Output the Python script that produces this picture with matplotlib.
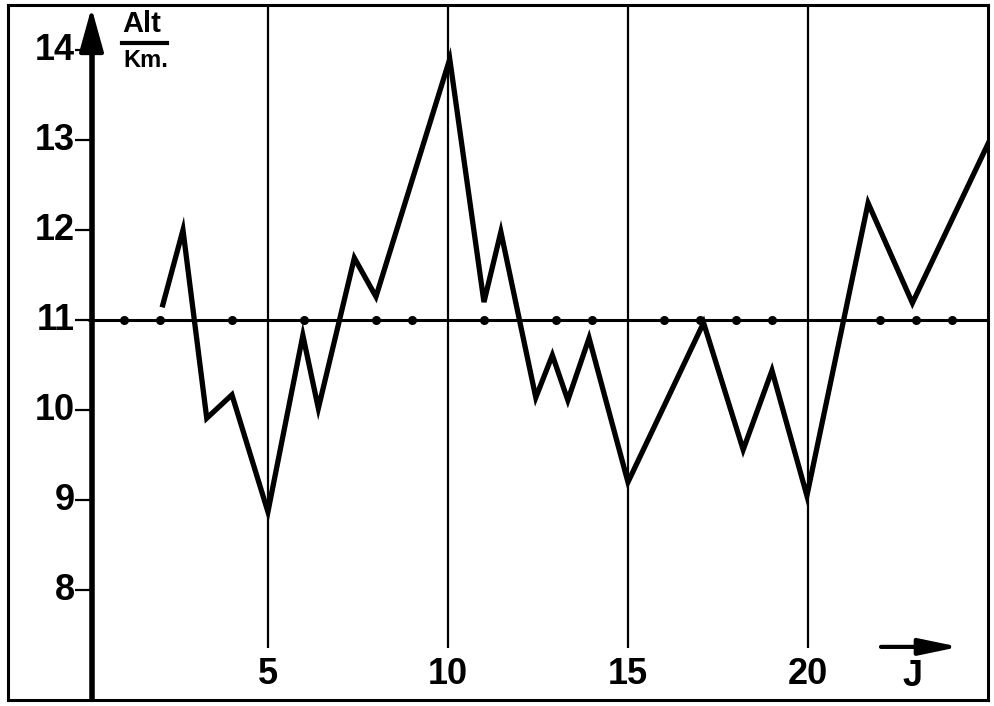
import matplotlib
matplotlib.use("Agg")
import matplotlib.pyplot as plt

# Data
days = [2.08, 2.64, 3.3, 4.0, 5.0, 5.97, 6.4, 7.4, 8.0, 10.05, 11.0, 11.47,
        12.44, 12.9, 13.33, 13.92, 15.0, 17.1, 18.2, 19.0, 19.97, 21.67, 22.9, 25.05]
alt = [11.17, 12.0, 9.91, 10.17, 8.87, 10.83, 10.02, 11.69, 11.26, 13.9, 11.2, 11.98,
       10.14, 10.61, 10.11, 10.8, 9.2, 10.97, 9.56, 10.44, 9.05, 12.3, 11.19, 13.0]
ref_level = 11
dot_days = [1, 2, 4, 6, 8, 9, 11, 13, 14, 16, 17, 18, 19, 22, 23, 24]
y_ticks = [8, 9, 10, 11, 12, 13, 14]
x_ticks = [5, 10, 15, 20]

plt.rcParams["font.family"] = ["Liberation Sans", "DejaVu Sans"]

fig = plt.figure(figsize=(9.94, 7.06), dpi=100)
ax = fig.add_axes([8 / 994, 6 / 706, 980 / 994, 695 / 706])
ax.set_xlim(-2.22, 25.0)
ax.set_ylim(6.78, 14.5)
ax.set_xticks([])
ax.set_yticks([])
for s in ax.spines.values():
    s.set_linewidth(2.2)
    s.set_color("black")

# vertical grid lines
ax.vlines(x_ticks, 7.36, 14.5, color="black", lw=1.6)
# reference level with dots
ax.hlines(ref_level, 0, 25.0, color="black", lw=2.2)
ax.plot(dot_days, [ref_level] * len(dot_days), "o", color="black", ms=5.5)

# y axis with arrow
ax.plot([0.1, 0.1], [6.78, 14.1], color="black", lw=4, solid_capstyle="butt")
ax.annotate("", xy=(0.1, 14.5), xytext=(0.1, 14.05),
            arrowprops=dict(arrowstyle="-|>,head_length=2.7,head_width=0.75",
                            color="black", lw=3))

# y ticks and labels
ax.hlines(y_ticks, -0.35, 0.1, color="black", lw=1.6)
for v in y_ticks:
    ax.text(-0.36, v, str(v), ha="right", va="center", fontsize=26,
            fontweight="bold", color="black")

# x labels
for v in x_ticks:
    ax.text(v, 7.06, str(v), ha="center", va="center", fontsize=26,
            fontweight="bold", color="black")
ax.text(22.89, 7.04, "J", ha="center", va="center", fontsize=26,
        fontweight="bold", color="black")
ax.annotate("", xy=(24.28, 7.37), xytext=(21.95, 7.37),
            arrowprops=dict(arrowstyle="-|>,head_length=2.4,head_width=0.5",
                            color="black", lw=3))

# unit label
ax.text(1.5, 14.29, "Alt", ha="center", va="center", fontsize=21,
        fontweight="bold", color="black")
ax.plot([0.95, 2.2], [14.08, 14.08], color="black", lw=3)
ax.text(1.61, 13.88, "Km.", ha="center", va="center", fontsize=17,
        fontweight="bold", color="black")

# the data curve
ax.plot(days, alt, color="black", lw=3.8, solid_joinstyle="miter")

fig.savefig("out.png", dpi=100)
